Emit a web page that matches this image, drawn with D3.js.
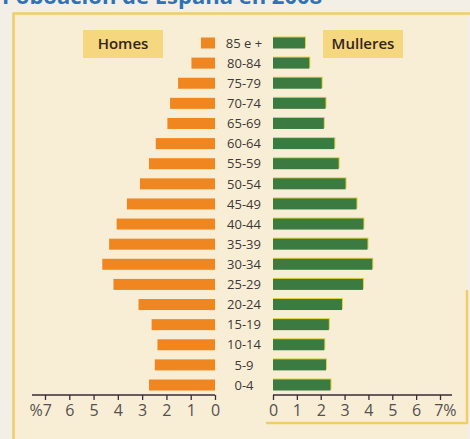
<!DOCTYPE html>
<html>
<head>
<meta charset="utf-8">
<script src="https://cdn.jsdelivr.net/npm/d3@7"></script>
<style>
  html, body { margin: 0; padding: 0; background: #f3efe6; }
  svg { display: block; }
</style>
</head>
<body>
<div id="chart"></div>
<script>
// Population by age group, Spain 2008 (% of total)
const ageGroups = ["85 e +", "80-84", "75-79", "70-74", "65-69", "60-64", "55-59", "50-54", "45-49",
                   "40-44", "35-39", "30-34", "25-29", "20-24", "15-19", "10-14", "5-9", "0-4"];
const homes    = [0.58, 0.97, 1.52, 1.85, 1.96, 2.44, 2.72, 3.09, 3.63,
                  4.05, 4.36, 4.64, 4.18, 3.15, 2.61, 2.37, 2.48, 2.72];
const mulleres = [1.34, 1.52, 2.04, 2.20, 2.13, 2.57, 2.75, 3.04, 3.50,
                  3.79, 3.96, 4.16, 3.77, 2.89, 2.34, 2.15, 2.22, 2.41];
const tickValues = [0, 1, 2, 3, 4, 5, 6, 7];
const seriesLabels = ["Homes", "Mulleres"];
const titleText = "Poboación de España en 2008";

const width = 470, height = 439;
const font = "'Open Sans', 'Noto Sans', sans-serif";

const svg = d3.select("#chart")
  .append("svg")
    .attr("width", width)
    .attr("height", height);

// page + panel backgrounds
svg.append("rect").attr("width", width).attr("height", height).attr("fill", "#f3efe6");
svg.append("rect")
  .attr("x", 13).attr("y", 13).attr("width", 454).attr("height", 430)
  .attr("fill", "#f8eed6");

// panel border (only partly visible in the scan)
const border = svg.append("g").attr("fill", "none").attr("stroke", "#f1cd6a").attr("stroke-width", 2.5);
border.append("path").attr("d", "M13.5,439 V13.5 H470");
border.append("path").attr("d", "M266,423 H467 V290");

// title, cut off at the top of the picture
svg.append("text")
  .attr("x", 2).attr("y", 4)
  .attr("font-family", font).attr("font-weight", 700).attr("font-size", 22)
  .attr("fill", "#2f72b5")
  .text(titleText);

// scales
const y = d3.scalePoint()
  .domain(ageGroups)
  .range([43, 385]);

const xLeft = d3.scaleLinear().domain([0, 7]).range([215, 45]);
const xRight = d3.scaleLinear().domain([0, 7]).range([273, 440]);
const barH = 11;

// men bars
svg.append("g")
  .selectAll("rect")
  .data(homes)
  .join("rect")
    .attr("x", d => xLeft(d))
    .attr("y", (d, i) => y(ageGroups[i]) - barH / 2)
    .attr("width", d => xLeft(0) - xLeft(d))
    .attr("height", barH)
    .attr("fill", "#f0861f");

// women bars (with the slight yellow misregistration on top)
const wg = svg.append("g");
wg.selectAll("rect.shadow")
  .data(mulleres)
  .join("rect")
    .attr("class", "shadow")
    .attr("x", xRight(0))
    .attr("y", (d, i) => y(ageGroups[i]) - barH / 2 - 1)
    .attr("width", d => xRight(d) - xRight(0) + 1)
    .attr("height", barH)
    .attr("fill", "#d9cf3c");
wg.selectAll("rect.bar")
  .data(mulleres)
  .join("rect")
    .attr("class", "bar")
    .attr("x", xRight(0))
    .attr("y", (d, i) => y(ageGroups[i]) - barH / 2)
    .attr("width", d => xRight(d) - xRight(0))
    .attr("height", barH)
    .attr("fill", "#3b7a40");

// age labels in the middle
svg.append("g")
  .selectAll("text")
  .data(ageGroups)
  .join("text")
    .attr("x", 244)
    .attr("y", d => y(d))
    .attr("dy", "0.36em")
    .attr("text-anchor", "middle")
    .attr("font-family", font)
    .attr("font-size", 13)
    .attr("fill", "#403838")
    .text(d => d);

// series label boxes
const labelBoxes = [
  { text: seriesLabels[0], x: 83 },
  { text: seriesLabels[1], x: 323 }
];
const lb = svg.append("g")
  .selectAll("g")
  .data(labelBoxes)
  .join("g")
    .attr("transform", d => `translate(${d.x},30)`);
lb.append("rect")
  .attr("width", 80).attr("height", 28)
  .attr("fill", "#f4d77f");
lb.append("text")
  .attr("x", 40).attr("y", 14).attr("dy", "0.36em")
  .attr("text-anchor", "middle")
  .attr("font-family", font).attr("font-weight", 600).attr("font-size", 15)
  .attr("fill", "#35241c")
  .text(d => d.text);

// axes
const axisY = 395;
const axisColor = "#3b2a3a";

const leftAxis = svg.append("g")
  .attr("transform", `translate(0,${axisY})`)
  .call(d3.axisBottom(xLeft).tickValues(tickValues).tickSize(5).tickPadding(5)
    .tickFormat(d => d === 7 ? "%7" : d));
const rightAxis = svg.append("g")
  .attr("transform", `translate(0,${axisY})`)
  .call(d3.axisBottom(xRight).tickValues(tickValues).tickSize(5).tickPadding(5)
    .tickFormat(d => d === 7 ? "7%" : d));

[leftAxis, rightAxis].forEach(ax => {
  ax.select(".domain").remove();
  ax.selectAll(".tick line").attr("stroke", axisColor).attr("stroke-width", 1.3);
  ax.selectAll(".tick text")
    .attr("font-family", font).attr("font-size", 16)
    .attr("fill", "#555050");
});
// shift the % labels so the digit sits on the tick
leftAxis.selectAll(".tick text").filter(d => d === 7).attr("dx", "-0.3em");
rightAxis.selectAll(".tick text").filter(d => d === 7).attr("dx", "0.3em");

svg.append("line")
  .attr("x1", 32).attr("x2", xLeft(0)).attr("y1", axisY).attr("y2", axisY)
  .attr("stroke", axisColor).attr("stroke-width", 1.5);
svg.append("line")
  .attr("x1", xRight(0)).attr("x2", 452).attr("y1", axisY).attr("y2", axisY)
  .attr("stroke", axisColor).attr("stroke-width", 1.5);
</script>
</body>
</html>
